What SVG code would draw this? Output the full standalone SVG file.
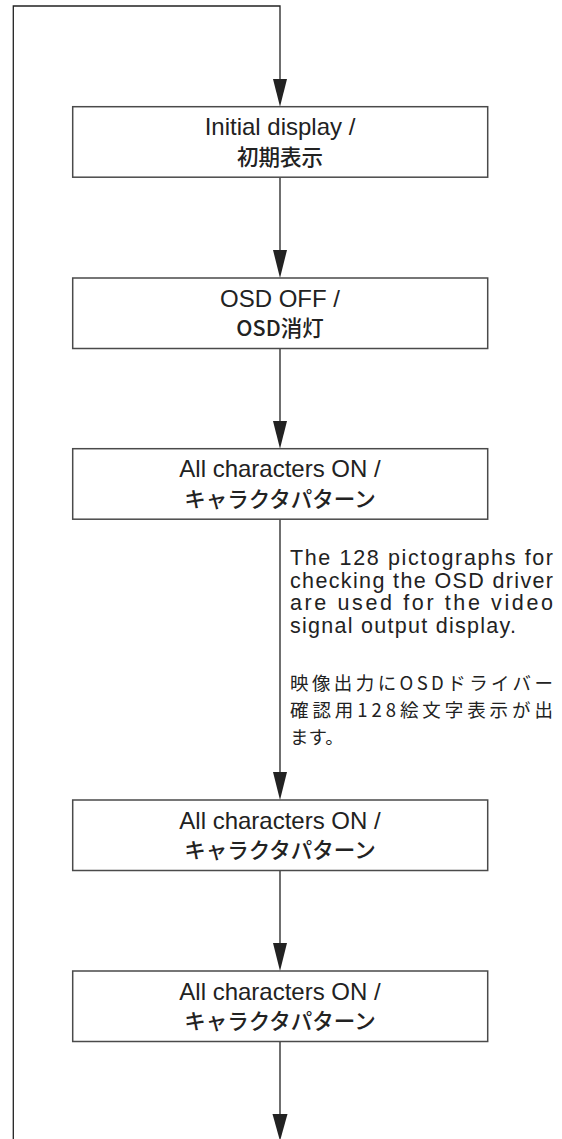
<svg xmlns="http://www.w3.org/2000/svg" width="562" height="1139" viewBox="0 0 562 1139">
<style>
.box{fill:#fff;stroke:#4a4a4a;stroke-width:1.5}
.ln{fill:none;stroke:#222;stroke-width:1.3}
.ah{fill:#222}
.t{font-family:"Liberation Sans","Noto Sans CJK JP",sans-serif;font-size:24px;fill:#222;text-anchor:middle}
.j{font-family:"Noto Sans CJK JP",sans-serif;font-size:21.5px;font-weight:500;fill:#222;text-anchor:middle}
.n{font-family:"Liberation Sans",sans-serif;font-size:21.5px;fill:#222}
.nj{font-family:"Noto Sans CJK JP",sans-serif;font-size:18.5px;font-weight:400;fill:#222}
</style>
<rect width="562" height="1139" fill="#fff"/>
<g id="connectors">
<path class="ln" d="M13.3,1139 V6 H280 V80"/>
<polygon class="ah" points="273,79 287,79 280,106.7"/>
<line class="ln" x1="280" y1="177" x2="280" y2="251"/>
<polygon class="ah" points="273,250 287,250 280,278"/>
<line class="ln" x1="280" y1="348.5" x2="280" y2="422"/>
<polygon class="ah" points="273,421 287,421 280,448.7"/>
<line class="ln" x1="280" y1="519" x2="280" y2="773"/>
<polygon class="ah" points="273,772 287,772 280,800"/>
<line class="ln" x1="280" y1="870.5" x2="280" y2="944"/>
<polygon class="ah" points="273,943 287,943 280,971"/>
<line class="ln" x1="280" y1="1041.5" x2="280" y2="1115"/>
<polygon class="ah" points="272.5,1114 287.5,1114 280,1141"/>
</g>
<g id="n1">
<rect class="box" x="72.7" y="106.7" width="415" height="70.5"/>
<text class="t" x="280" y="135">Initial display /</text>
<text class="j" x="280" y="165">初期表示</text>
</g>
<g id="n2">
<rect class="box" x="72.7" y="278" width="415" height="70.5"/>
<text class="t" x="280" y="306.5">OSD OFF /</text>
<text class="j" x="280" y="336">OSD消灯</text>
</g>
<g id="n3">
<rect class="box" x="72.7" y="448.7" width="415" height="70.5"/>
<text class="t" x="280" y="477">All characters ON /</text>
<text class="j" x="280" y="507">キャラクタパターン</text>
</g>
<g id="note">
<text class="n" x="290" y="565" textLength="263" lengthAdjust="spacing">The 128 pictographs for</text>
<text class="n" x="290" y="588" textLength="263" lengthAdjust="spacing">checking the OSD driver</text>
<text class="n" x="290" y="610" textLength="263" lengthAdjust="spacing">are used for the video</text>
<text class="n" x="290" y="633" textLength="226" lengthAdjust="spacing">signal output display.</text>
<text class="nj" x="290" y="690" textLength="263" lengthAdjust="spacing">映像出力にOSDドライバー</text>
<text class="nj" x="290" y="717" textLength="263" lengthAdjust="spacing">確認用128絵文字表示が出</text>
<text class="nj" x="290" y="744">ます。</text>
</g>
<g id="n4">
<rect class="box" x="72.7" y="800" width="415" height="70.5"/>
<text class="t" x="280" y="828.5">All characters ON /</text>
<text class="j" x="280" y="858">キャラクタパターン</text>
</g>
<g id="n5">
<rect class="box" x="72.7" y="971" width="415" height="70.5"/>
<text class="t" x="280" y="999.5">All characters ON /</text>
<text class="j" x="280" y="1029">キャラクタパターン</text>
</g>
</svg>
